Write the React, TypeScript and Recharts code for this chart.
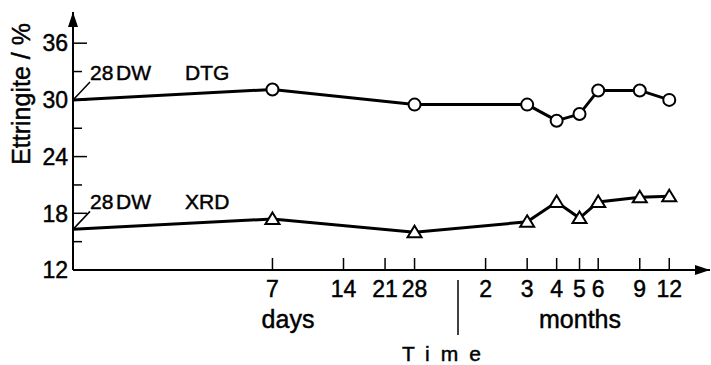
import { LineChart, Line, XAxis, YAxis, ReferenceDot, Customized } from 'recharts'

const FONT = '"Liberation Sans", Arial, sans-serif'
// slightly heavier lettering than the regular face
const INK = { fill: '#000', stroke: '#000', strokeWidth: 0.45 }

// age in days on a log axis; months are counted as 4-week blocks
const dayTicks = [7, 14, 21, 28, 56, 84, 112, 140, 168, 252, 336]
const dayTickLabels = ['7', '14', '21', '28', '2', '3', '4', '5', '6', '9', '12']

// day 1 stands for the 28DW starting state on the y axis
const sampleDays = [1, 7, 28, 84, 112, 140, 168, 252, 336]
const dtgValues = [30, 31.1, 29.5, 29.5, 27.8, 28.5, 31.0, 31.0, 30.0]
const xrdValues = [16.3, 17.4, 16.0, 17.1, 19.2, 17.5, 19.2, 19.7, 19.8]

const yTicks = [12, 15, 18, 21, 24, 27, 30, 33, 36]
const yLabelled = [12, 18, 24, 30, 36]

const Y_MAX = 39.3
const X_MAX = 500

const rows = sampleDays.map((day, i) => ({ day, dtg: dtgValues[i], xrd: xrdValues[i] }))

function TimeTick({ x, y, payload }: any) {
  const label = dayTickLabels[dayTicks.indexOf(payload.value)]
  return (
    <g>
      <line x1={x} x2={x} y1={y} y2={y - 12} stroke="#000" strokeWidth={1.5} />
      <text x={x} y={y + 27} textAnchor="middle" fontSize={23} fontFamily={FONT} {...INK}>
        {label}
      </text>
    </g>
  )
}

function ValueTick({ x, y, payload }: any) {
  const major = yLabelled.includes(payload.value)
  return (
    <g>
      {payload.value !== 12 && (
        <line x1={x} x2={x + (major ? 14 : 9)} y1={y} y2={y} stroke="#000" strokeWidth={1.5} />
      )}
      {major && (
        <text x={x - 5} y={y} dy="0.36em" textAnchor="end" fontSize={23} fontFamily={FONT} {...INK}>
          {payload.value}
        </text>
      )}
    </g>
  )
}

const circleDot = (p: any) =>
  p.index === 0 ? (
    <g key={`c-${p.index}`} />
  ) : (
    <circle key={`c-${p.index}`} cx={p.cx} cy={p.cy} r={6} fill="#fff" stroke="#000" strokeWidth={2} />
  )

const triangleDot = (p: any) =>
  p.index === 0 ? (
    <g key={`t-${p.index}`} />
  ) : (
    <path
      key={`t-${p.index}`}
      d={`M${p.cx},${p.cy - 6.5} L${p.cx + 7},${p.cy + 5} L${p.cx - 7},${p.cy + 5} Z`}
      fill="#fff"
      stroke="#000"
      strokeWidth={2}
    />
  )

const upArrow = ({ cx, cy }: any) => (
  <path d={`M${cx},${cy} L${cx + 5},${cy + 15} L${cx - 5},${cy + 15} Z`} fill="#000" />
)

const rightArrow = ({ cx, cy }: any) => (
  <path d={`M${cx},${cy} L${cx - 15},${cy - 5} L${cx - 15},${cy + 5} Z`} fill="#000" />
)

// leader from the starting value up to the "28DW  <method>" note
const startNote = (method: string) => ({ cx, cy }: any) => (
  <g fontFamily={FONT} fontSize={21} {...INK}>
    <line x1={cx} y1={cy} x2={cx + 17} y2={cy - 18} stroke="#000" strokeWidth={1.5} />
    <text x={cx + 17} y={cy - 20}>28</text>
    <text x={cx + 43} y={cy - 20}>DW</text>
    <text x={cx + 112} y={cy - 20}>{method}</text>
  </g>
)

function Captions() {
  return (
    <g fontFamily={FONT} {...INK}>
      <text transform="translate(30,94) rotate(-90)" textAnchor="middle" fontSize={25}>
        Ettringite / %
      </text>
      <text x={288} y={328} textAnchor="middle" fontSize={25}>
        days
      </text>
      <text x={580} y={328} textAnchor="middle" fontSize={25}>
        months
      </text>
      <text x={447} y={361} textAnchor="middle" fontSize={21} letterSpacing={11}>
        Time
      </text>
      <line x1={458} x2={458} y1={280} y2={335} stroke="#000" strokeWidth={1.5} />
    </g>
  )
}

export default function App() {
  return (
    <div style={{ position: 'absolute', left: 0, top: 0, background: '#fff' }}>
      <LineChart width={711} height={365} data={rows} margin={{ top: 12, right: 1, bottom: 0, left: 0 }}>
        <XAxis
          dataKey="day"
          type="number"
          scale="log"
          domain={[1, X_MAX]}
          allowDataOverflow
          ticks={dayTicks}
          interval={0}
          tickSize={0}
          tickMargin={0}
          tick={<TimeTick />}
          height={95}
          axisLine={{ stroke: '#000', strokeWidth: 2 }}
        />
        <YAxis
          type="number"
          domain={[12, Y_MAX]}
          allowDataOverflow
          ticks={yTicks}
          interval={0}
          tickSize={0}
          tickMargin={0}
          tick={<ValueTick />}
          width={73}
          axisLine={{ stroke: '#000', strokeWidth: 2 }}
        />
        <Line
          dataKey="dtg"
          type="linear"
          stroke="#000"
          strokeWidth={3}
          dot={circleDot}
          activeDot={false}
          isAnimationActive={false}
        />
        <Line
          dataKey="xrd"
          type="linear"
          stroke="#000"
          strokeWidth={3}
          dot={triangleDot}
          activeDot={false}
          isAnimationActive={false}
        />
        <ReferenceDot x={1} y={dtgValues[0]} r={0} ifOverflow="visible" shape={startNote('DTG')} />
        <ReferenceDot x={1} y={xrdValues[0]} r={0} ifOverflow="visible" shape={startNote('XRD')} />
        <ReferenceDot x={1} y={Y_MAX} r={0} ifOverflow="visible" shape={upArrow} />
        <ReferenceDot x={X_MAX} y={12} r={0} ifOverflow="visible" shape={rightArrow} />
        <Customized component={Captions} />
      </LineChart>
    </div>
  )
}
